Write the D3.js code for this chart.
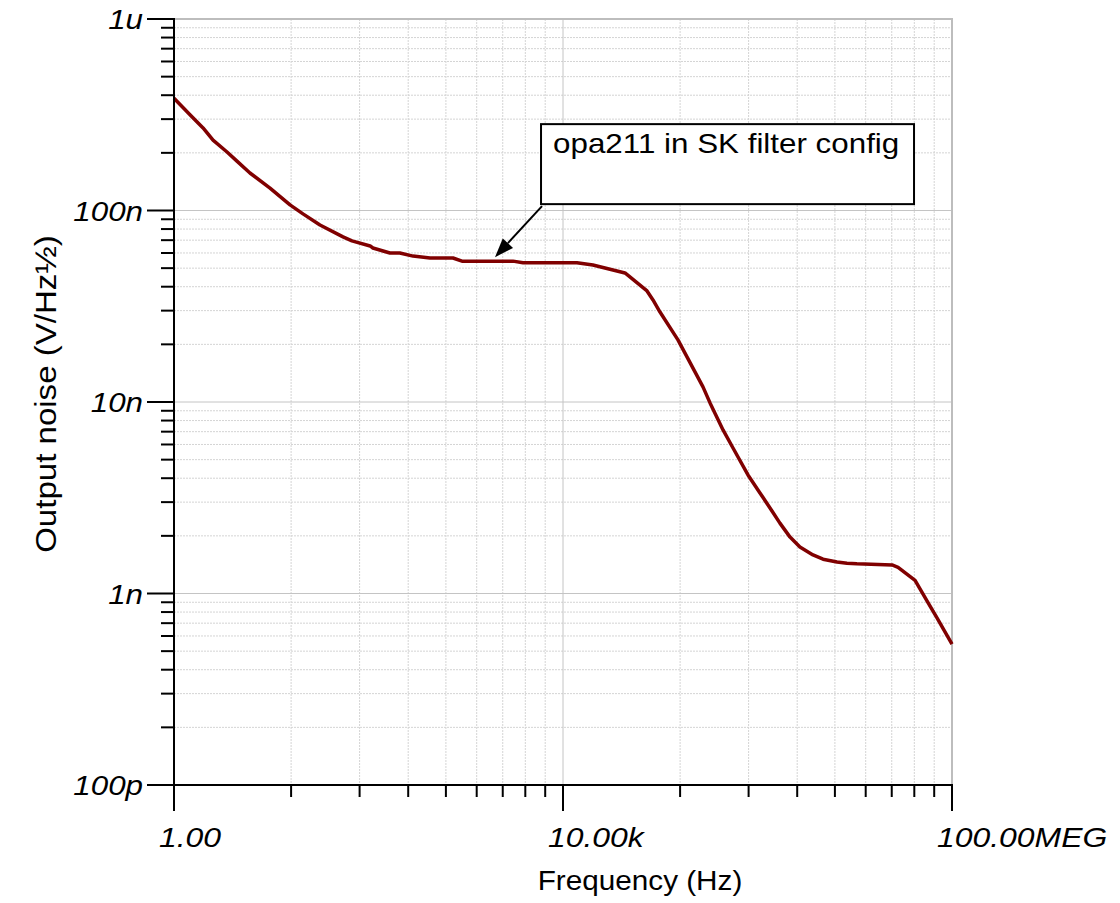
<!DOCTYPE html>
<html>
<head>
<meta charset="utf-8">
<script src="https://cdn.jsdelivr.net/npm/d3@7"></script>
<style>
  body { margin: 0; background: #fff; }
  text { font-family: "Liberation Sans", Arial, sans-serif; }
</style>
</head>
<body>
<svg id="chart" width="1120" height="903"></svg>
<script>
// Data (Hz, V/sqrt(Hz))
var freq = [1, 1.46, 1.99, 2.52, 3.51, 4.44, 6.04, 9.71, 15.6, 21.2, 31.7, 54.7, 67.6, 104, 111,
  166, 210, 287, 429, 739, 915, 3060, 3880, 9310, 13900, 20300, 43400, 73100, 84200, 99400,
  152000, 275000, 325000, 442000, 560000, 798000, 1.06e6, 1.35e6, 1.70e6, 2.16e6, 2.73e6,
  3.72e6, 4.72e6, 6.57e6, 8.32e6, 1.05e7, 2.42e7, 2.79e7, 4.17e7, 5.53e7, 7.01e7, 1e8];
var noise = [386e-9, 316e-9, 270e-9, 233e-9, 202e-9, 181e-9, 157e-9, 131e-9, 107e-9, 96e-9, 84e-9,
  72.8e-9, 69.4e-9, 65.3e-9, 63.7e-9, 60e-9, 60e-9, 57.8e-9, 56.5e-9, 56.5e-9, 54.4e-9, 54.4e-9,
  53.4e-9, 53.4e-9, 53.4e-9, 51.9e-9, 47.2e-9, 38e-9, 34.1e-9, 29.5e-9, 21.1e-9, 12e-9, 9.89e-9,
  7.15e-9, 5.75e-9, 4.16e-9, 3.35e-9, 2.79e-9, 2.33e-9, 1.97e-9, 1.75e-9, 1.59e-9, 1.51e-9,
  1.46e-9, 1.44e-9, 1.43e-9, 1.41e-9, 1.37e-9, 1.17e-9, 0.914e-9, 0.745e-9, 0.544e-9];

var xTickValues = [1, 1e4, 1e8];
var xTickLabels = ["1.00", "10.00k", "100.00MEG"];
var yTickValues = [1e-10, 1e-9, 1e-8, 1e-7, 1e-6];
var yTickLabels = ["100p", "1n", "10n", "100n", "1u"];

var annotationText = "opa211 in SK filter config";
var annotationTarget = [2000, 54.4e-9];

var svg = d3.select("#chart");

var x = d3.scaleLog().domain([1, 1e8]).range([174, 952]);
var y = d3.scaleLog().domain([1e-10, 1e-6]).range([785, 19]);

// x minor ticks: each labelled step spans 4 decades, subdivided like one decade
var xMinor = [];
xTickValues.slice(0, -1).forEach(function(b) {
  for (var k = 2; k <= 9; k++) xMinor.push(b * Math.pow(k, 4));
});
var yMinor = [];
yTickValues.slice(0, -1).forEach(function(b) {
  for (var k = 2; k <= 9; k++) yMinor.push(b * k);
});

var grid = svg.append("g");
// minor grid
grid.selectAll(".gxm").data(xMinor).enter().append("line")
  .attr("x1", function(d){ return x(d) }).attr("x2", function(d){ return x(d) })
  .attr("y1", 19).attr("y2", 785)
  .attr("stroke", "#d4d4d4").attr("stroke-dasharray", "2,1");
grid.selectAll(".gym").data(yMinor).enter().append("line")
  .attr("x1", 174).attr("x2", 952)
  .attr("y1", function(d){ return y(d) }).attr("y2", function(d){ return y(d) })
  .attr("stroke", "#d4d4d4").attr("stroke-dasharray", "2,1");
// major grid
grid.selectAll(".gxM").data(xTickValues.slice(1, -1)).enter().append("line")
  .attr("x1", function(d){ return x(d) }).attr("x2", function(d){ return x(d) })
  .attr("y1", 19).attr("y2", 785)
  .attr("stroke", "#c4c4c4");
grid.selectAll(".gyM").data(yTickValues.slice(1, -1)).enter().append("line")
  .attr("x1", 174).attr("x2", 952)
  .attr("y1", function(d){ return y(d) }).attr("y2", function(d){ return y(d) })
  .attr("stroke", "#c4c4c4");

// top and right frame (gray)
svg.append("line").attr("x1", 174).attr("x2", 953).attr("y1", 19).attr("y2", 19)
  .attr("stroke", "#bdbdbd").attr("stroke-width", 2);
svg.append("line").attr("x1", 952).attr("x2", 952).attr("y1", 19).attr("y2", 785)
  .attr("stroke", "#bdbdbd").attr("stroke-width", 2);

// the curve
var line = d3.line()
  .x(function(d){ return x(d[0]) })
  .y(function(d){ return y(d[1]) });
svg.append("path")
  .datum(d3.zip(freq, noise))
  .attr("d", line)
  .attr("fill", "none")
  .attr("stroke", "#800000")
  .attr("stroke-width", 3.5)
  .attr("stroke-linejoin", "round");

// axes (black)
var ax = svg.append("g").attr("stroke", "black").attr("stroke-width", 2);
ax.append("line").attr("x1", 174).attr("x2", 174).attr("y1", 18).attr("y2", 811);
ax.append("line").attr("x1", 147).attr("x2", 953).attr("y1", 785).attr("y2", 785);
ax.selectAll(".ytM").data(yTickValues).enter().append("line")
  .attr("x1", 147).attr("x2", 174)
  .attr("y1", function(d){ return y(d) }).attr("y2", function(d){ return y(d) });
ax.selectAll(".ytm").data(yMinor).enter().append("line")
  .attr("x1", 161).attr("x2", 174)
  .attr("y1", function(d){ return y(d) }).attr("y2", function(d){ return y(d) });
ax.selectAll(".xtM").data(xTickValues).enter().append("line")
  .attr("x1", function(d){ return x(d) }).attr("x2", function(d){ return x(d) })
  .attr("y1", 785).attr("y2", 811);
ax.selectAll(".xtm").data(xMinor).enter().append("line")
  .attr("x1", function(d){ return x(d) }).attr("x2", function(d){ return x(d) })
  .attr("y1", 785).attr("y2", 797);

// tick labels
svg.selectAll(".ylab").data(yTickValues).enter().append("text")
  .attr("transform", function(d){ return "translate(143," + (y(d) + 10) + ") scale(1.1,1)" })
  .attr("text-anchor", "end")
  .style("font-style", "italic")
  .style("font-size", "28.5px")
  .text(function(d, i){ return yTickLabels[i] });
svg.selectAll(".xlab").data(xTickValues).enter().append("text")
  .attr("transform", function(d){ return "translate(" + (x(d) - 15) + ",847) scale(1.12,1)" })
  .style("font-style", "italic")
  .style("font-size", "28.5px")
  .text(function(d, i){ return xTickLabels[i] });

// axis titles
svg.append("text")
  .attr("transform", "translate(640,890) scale(1.1,1)")
  .attr("text-anchor", "middle")
  .style("font-size", "27px")
  .text("Frequency (Hz)");
svg.append("text")
  .attr("transform", "translate(56,394) rotate(-90) scale(1.14,1)")
  .attr("text-anchor", "middle")
  .style("font-size", "29px")
  .text("Output noise (V/Hz\u00BD)");

// annotation box with arrow
var tx = x(annotationTarget[0]), ty = y(annotationTarget[1]) - 4;
var bx = tx + 46, by = ty - 133;
var sx = bx + 1, sy = by + 82;
var ang = Math.atan2(ty - sy, tx - sx);
var headLen = 19, headHalf = 7;
var baseX = tx - headLen * Math.cos(ang), baseY = ty - headLen * Math.sin(ang);
svg.append("line")
  .attr("x1", sx).attr("y1", sy)
  .attr("x2", baseX).attr("y2", baseY)
  .attr("stroke", "black").attr("stroke-width", 2);
svg.append("path")
  .attr("d", "M" + tx + "," + ty +
    "L" + (baseX + headHalf * Math.sin(ang)) + "," + (baseY - headHalf * Math.cos(ang)) +
    "L" + (baseX - headHalf * Math.sin(ang)) + "," + (baseY + headHalf * Math.cos(ang)) + "Z")
  .attr("fill", "black");
svg.append("rect")
  .attr("x", bx).attr("y", by).attr("width", 373).attr("height", 80)
  .attr("fill", "white").attr("stroke", "black").attr("stroke-width", 2);
svg.append("text")
  .attr("transform", "translate(" + (bx + 12) + "," + (by + 29) + ") scale(1.12,1)")
  .style("font-size", "28px")
  .text(annotationText);
</script>
</body>
</html>
